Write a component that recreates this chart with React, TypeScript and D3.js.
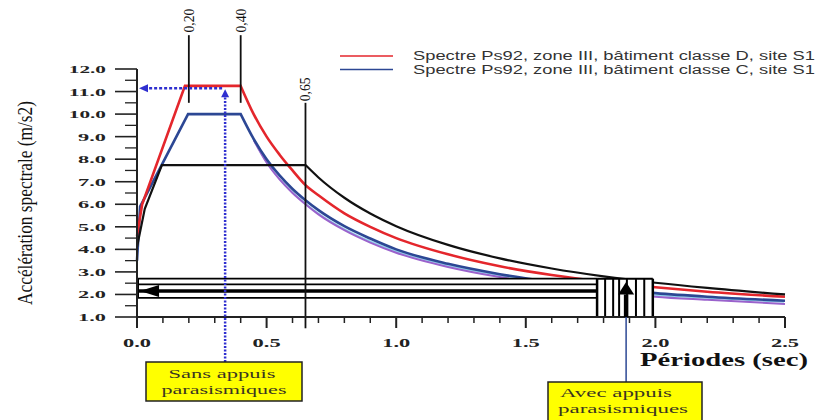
import React from "react";
import * as d3 from "d3";

// ---- data (period T in sec, spectral acceleration in m/s2) ----
const spectreD: [number, number][] = [
  [0, 4.6], [0.02, 6.0], [0.185, 11.25], [0.4, 11.25], [0.45, 10.0], [0.5, 9.0], [0.55, 8.2],
  [0.6, 7.5], [0.65, 6.85], [0.7, 6.4], [0.8, 5.6], [0.9, 5.0], [1.0, 4.5], [1.2, 3.78],
  [1.4, 3.25], [1.6, 2.86], [1.8, 2.56], [2.0, 2.32], [2.2, 2.12], [2.5, 1.9],
];
const spectreC: [number, number][] = [
  [0, 3.5], [0.012, 5.9], [0.197, 10.0], [0.4, 10.0], [0.45, 8.9], [0.5, 8.0], [0.55, 7.28],
  [0.6, 6.68], [0.65, 6.18], [0.7, 5.74], [0.8, 5.03], [0.9, 4.48], [1.0, 4.0], [1.2, 3.36],
  [1.4, 2.9], [1.6, 2.55], [1.8, 2.28], [2.0, 2.06], [2.2, 1.9], [2.5, 1.72],
];
const spectreViolet: [number, number][] = [
  [0.45, 8.85], [0.5, 7.85], [0.55, 7.1], [0.6, 6.5], [0.65, 6.0], [0.7, 5.55], [0.8, 4.85],
  [0.9, 4.3], [1.0, 3.85], [1.2, 3.22], [1.4, 2.77], [1.6, 2.43], [1.8, 2.15], [2.0, 1.9],
  [2.2, 1.76], [2.5, 1.58],
];
const spectreNoir: [number, number][] = [
  [0, 4.1], [0.03, 5.8], [0.096, 7.74], [0.65, 7.74], [0.7, 7.19], [0.8, 6.29], [0.9, 5.59],
  [1.0, 5.03], [1.2, 4.2], [1.4, 3.6], [1.6, 3.15], [1.8, 2.8], [2.0, 2.52], [2.2, 2.29],
  [2.5, 2.0],
];

const yTicks = [1, 2, 3, 4, 5, 6, 7, 8, 9, 10, 11, 12];
const yTickLabels = ["1.0", "2.0", "3.0", "4.0", "5.0", "6.0", "7.0", "8.0", "9.0", "10.0", "11.0", "12.0"];
const xTicks = [0, 0.5, 1.0, 1.5, 2.0, 2.5];
const xTickLabels = ["0.0", "0.5", "1.0", "1.5", "2.0", "2.5"];
const xMinorTicks = [0.1, 0.2, 0.3, 0.4, 0.6, 0.7, 0.8, 0.9, 1.1, 1.2, 1.3, 1.4, 1.6, 1.7, 1.8, 1.9, 2.1, 2.2, 2.3, 2.4];

const markerPeriods = [0.2, 0.4, 0.65];
const markerLabels = ["0,20", "0,40", "0,65"];

const bandLevels = [2.7, 2.45, 2.15, 1.85];
const bandEndT = 1.775;
const hatchT = [1.775, 1.806, 1.837, 1.86, 1.89, 1.925, 1.957, 1.99];
const sansT = 0.34;
const sansA = 11.15;
const avecT = 1.887;

const legendLabels = [
  "Spectre Ps92, zone III, bâtiment classe D, site S1",
  "Spectre Ps92, zone III, bâtiment classe C, site S1",
];

// ---- layout ----
const W = 815, H = 420;
const x = d3.scaleLinear().domain([0, 2.5]).range([137, 785]);
const y = d3.scaleLinear().domain([1, 12]).range([317, 69]);

const RED = "#e4262c";
const BLUE = "#2c4794";
const VIOLET = "#9a62cc";
const DOT = "#2f2fd0";
const serif = "'Liberation Serif', 'Times New Roman', serif";
const sans = "'Liberation Sans', Arial, sans-serif";

const lin = d3.line<[number, number]>().x(d => x(d[0])).y(d => y(d[1])).curve(d3.curveLinear);
const mono = d3.line<[number, number]>().x(d => x(d[0])).y(d => y(d[1])).curve(d3.curveMonotoneX);

function spectrumPath(data: [number, number][]) {
  const maxV = d3.max(data, d => d[1]) as number;
  let k = 0;
  data.forEach((d, i) => { if (d[1] === maxV) k = i; });
  return (lin(data.slice(0, k + 1)) || "") + (mono(data.slice(k)) || "").replace(/^M/, "L");
}

export default function App() {
  const bandTop = y(bandLevels[0]);
  const bandBottom = y(bandLevels[bandLevels.length - 1]);
  return (
    <svg width={W} height={H} style={{ position: "absolute", left: 0, top: 0, background: "#fff" }}>
      <rect x={0} y={0} width={W} height={H} fill="#fff" />

      {/* curves */}
      <path d={mono(spectreViolet.map(d => [d[0] - 0.004, d[1] + 0.08] as [number, number])) || ""} fill="none" stroke="#8fd6ee" strokeWidth={1.5} />
      <path d={mono(spectreViolet) || ""} fill="none" stroke={VIOLET} strokeWidth={2} />
      <path d={spectrumPath(spectreC)} fill="none" stroke={BLUE} strokeWidth={2.6} />
      <path d={spectrumPath(spectreD)} fill="none" stroke={RED} strokeWidth={2.6} />
      <path d={spectrumPath(spectreNoir)} fill="none" stroke="#111" strokeWidth={2.2} />

      {/* band with arrow */}
      <rect x={x(0)} y={bandTop} width={x(bandEndT) - x(0)} height={bandBottom - bandTop} fill="#fff" />
      <rect x={x(hatchT[0])} y={bandTop} width={x(hatchT[hatchT.length - 1]) - x(hatchT[0])} height={y(1) - bandTop} fill="#fff" />
      {bandLevels.map((v, i) => (
        <line key={i} x1={x(0)} x2={x(bandEndT)} y1={y(v)} y2={y(v)} stroke="#000" strokeWidth={i === 2 ? 3.5 : 1.8} />
      ))}
      <line x1={x(0) + 1} x2={x(0) + 1} y1={bandTop} y2={bandBottom} stroke="#000" strokeWidth={2} />
      <path d={`M${x(0) + 3},${y(bandLevels[2])} L${x(0.085)},${y(bandLevels[2]) - 6} L${x(0.085)},${y(bandLevels[2]) + 6} Z`} fill="#000" />
      <line x1={x(hatchT[0])} x2={x(hatchT[hatchT.length - 1])} y1={bandTop} y2={bandTop} stroke="#000" strokeWidth={2} />
      {hatchT.map((t, i) => (
        <line key={i} x1={x(t)} x2={x(t)} y1={bandTop} y2={y(1)} stroke="#000" strokeWidth={i === 0 || i === hatchT.length - 1 ? 2.5 : 2} />
      ))}

      {/* period markers */}
      {markerPeriods.map((t, i) => {
        const top = i < 2 ? y(13.5) : y(10.5);
        const bottom = i < 2 ? y(10.5) : y(0.5);
        const ly = i < 2 ? y(14.15) : y(11.1);
        return (
          <g key={i}>
            <line x1={x(t)} x2={x(t)} y1={top} y2={bottom} stroke="#111" strokeWidth={1.8} />
            <text transform={`translate(${x(t) + 5},${ly}) rotate(-90)`} textAnchor="middle" fontFamily={serif} fontSize={14.5}
              fill="#111" textLength={24} lengthAdjust="spacingAndGlyphs">
              {markerLabels[i]}
            </text>
          </g>
        );
      })}

      {/* axes */}
      <line x1={x(0)} x2={x(0)} y1={y(12)} y2={y(1) + 11} stroke="#222" strokeWidth={2} />
      <line x1={x(0)} x2={x(2.5)} y1={y(1)} y2={y(1)} stroke="#222" strokeWidth={2} />
      {yTicks.map((v, i) => (
        <g key={v}>
          <line x1={x(0) - 22} x2={x(0)} y1={y(v)} y2={y(v)} stroke="#222" strokeWidth={1.6} />
          <text x={x(0) - 31} y={y(v) + 4} textAnchor="end" fontFamily={serif} fontWeight="bold" fontSize={10.5}
            fill="#222" textLength={yTickLabels[i].length * 9.3} lengthAdjust="spacingAndGlyphs">
            {yTickLabels[i]}
          </text>
          {v < 12 && <line x1={x(0) - 12} x2={x(0)} y1={y(v + 0.5)} y2={y(v + 0.5)} stroke="#222" strokeWidth={1.3} />}
        </g>
      ))}
      {xTicks.map((t, i) => (
        <g key={t}>
          <line x1={x(t)} x2={x(t)} y1={y(1)} y2={y(1) + 11} stroke="#222" strokeWidth={2} />
          <text x={x(t)} y={y(1) + 30} textAnchor="middle" fontFamily={serif} fontWeight="bold" fontSize={12.5}
            fill="#222" textLength={28} lengthAdjust="spacingAndGlyphs">
            {xTickLabels[i]}
          </text>
        </g>
      ))}
      {xMinorTicks.map(t => (
        <line key={t} x1={x(t)} x2={x(t)} y1={y(1)} y2={y(1) + 6} stroke="#222" strokeWidth={1.5} />
      ))}

      {/* axis titles */}
      <text transform={`translate(32,${(y(12) + y(1)) / 2 + 10}) rotate(-90)`} textAnchor="middle" fontFamily={serif}
        fontSize={22} fill="#111" textLength={204} lengthAdjust="spacingAndGlyphs">
        Accélération spectrale (m/s2)
      </text>
      <text x={640} y={366} fontFamily={serif} fontWeight="bold" fontSize={19} fill="#111" textLength={168} lengthAdjust="spacingAndGlyphs">
        Périodes (sec)
      </text>

      {/* Sans appuis: blue dotted arrows */}
      <line x1={x(sansT)} x2={x(sansT)} y1={362} y2={y(sansA) + 8} stroke={DOT} strokeWidth={2.5} strokeDasharray="2,1.5" />
      <path d={`M${x(sansT)},${y(sansA) + 1} L${x(sansT) - 4},${y(sansA) + 9} L${x(sansT) + 4},${y(sansA) + 9} Z`} fill={DOT} />
      <line x1={x(sansT) - 3} x2={x(0) + 10} y1={y(sansA)} y2={y(sansA)} stroke={DOT} strokeWidth={2.5} strokeDasharray="3,2" />
      <path d={`M${x(0) + 2},${y(sansA)} L${x(0) + 11},${y(sansA) - 4} L${x(0) + 11},${y(sansA) + 4} Z`} fill={DOT} />

      <rect x={146} y={362} width={156} height={39} fill="#ffff00" stroke="#222" strokeWidth={1.5} />
      <text x={222} y={378} textAnchor="middle" fontFamily={serif} fontSize={13} fill="#3a3520" textLength={107} lengthAdjust="spacingAndGlyphs">Sans appuis</text>
      <text x={224} y={394} textAnchor="middle" fontFamily={serif} fontSize={13} fill="#3a3520" textLength={125} lengthAdjust="spacingAndGlyphs">parasismiques</text>

      {/* Avec appuis */}
      <line x1={x(avecT)} x2={x(avecT)} y1={382} y2={y(1)} stroke={BLUE} strokeWidth={1.5} />
      <line x1={x(avecT)} x2={x(avecT)} y1={y(1)} y2={y(2.0)} stroke="#000" strokeWidth={4.5} />
      <path d={`M${x(avecT)},${y(2.55)} L${x(avecT) - 8},${y(2.0)} L${x(avecT) + 8},${y(2.0)} Z`} fill="#000" />
      <rect x={548} y={382} width={154} height={50} fill="#ffff00" stroke="#222" strokeWidth={1.5} />
      <text x={616} y={397} textAnchor="middle" fontFamily={serif} fontSize={13} fill="#3a3520" textLength={112} lengthAdjust="spacingAndGlyphs">Avec appuis</text>
      <text x={623} y={413} textAnchor="middle" fontFamily={serif} fontSize={13} fill="#3a3520" textLength={130} lengthAdjust="spacingAndGlyphs">parasismiques</text>

      {/* legend */}
      <line x1={340} x2={393} y1={56} y2={56} stroke={RED} strokeWidth={1.5} />
      <line x1={340} x2={393} y1={69.5} y2={69.5} stroke={BLUE} strokeWidth={1.5} />
      <text x={413} y={60} fontFamily={sans} fontSize={12} fill="#333" textLength={402} lengthAdjust="spacingAndGlyphs">{legendLabels[0]}</text>
      <text x={413} y={74} fontFamily={sans} fontSize={12} fill="#333" textLength={402} lengthAdjust="spacingAndGlyphs">{legendLabels[1]}</text>
    </svg>
  );
}
